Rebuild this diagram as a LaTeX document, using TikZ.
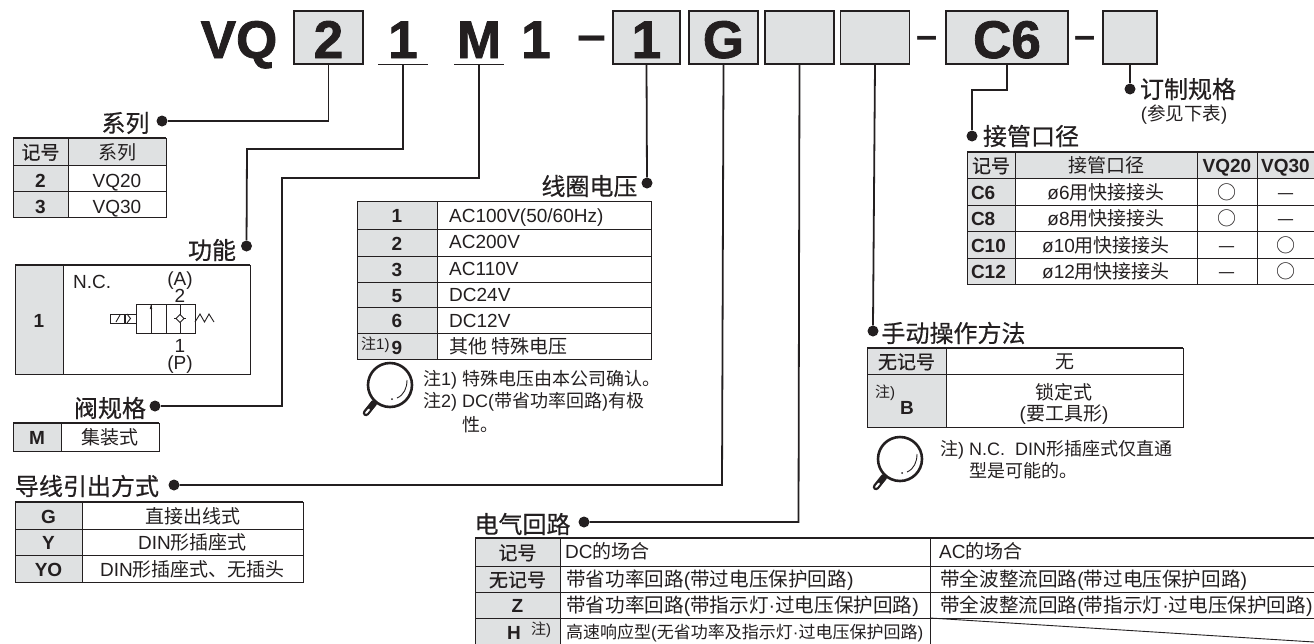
\documentclass[tikz,border=0pt]{standalone}
\usepackage{fontspec}
\setmainfont{Liberation Sans}
\newfontfamily\zhfont{Noto Sans CJK SC}
\newfontfamily\zhmedium[FakeBold=0.5]{Noto Sans CJK SC}
\newfontfamily\codefont[FakeBold=1.5]{Liberation Sans Bold}
\newcommand{\zh}[1]{{\zhfont #1}}
\newcommand{\zhk}[1]{{\zhmedium #1}}
\newcommand{\fs}[1]{\fontsize{#1}{#1}\selectfont}
% one table cell: corners, then its text
\newcommand{\tcell}[5][valcell]{\draw[#1] (#3) rectangle node[celltxt] (#2) {#5} (#4);}
\definecolor{keygray}{HTML}{DFE1E2}
\definecolor{ink}{HTML}{231F20}
\tikzset{
  lens/.pic={
    \draw[ink,line width=2.6pt] (0,0) circle (22pt);
    \draw[ink,line width=.9pt] (17,-5) .. controls (17,3) and (14,10) .. (7,13);
    \fill[ink] (2,14) circle (1pt);
    \draw[ink,line width=6.5pt,line cap=round] (-16,18) -- (-24,28);
    \draw[white,line width=2pt,line cap=round] (-21,24.5) -- (-24,28);
  }
}
\begin{document}
\begin{tikzpicture}[x=1pt,y=-1pt,ink,
    lead/.style={draw=ink,line width=1.8pt},
    stem/.style={draw=ink,line width=1.4pt},
    dotnode/.style={circle,fill=ink,inner sep=0pt,minimum size=11pt},
    codetxt/.style={inner sep=0pt,text height=41pt,text depth=0pt,minimum height=53pt,
      font=\fs{53}\codefont},
    codebox/.style={codetxt,draw=ink,fill=keygray,line width=1.5pt},
    dashtxt/.style={inner sep=0pt,font=\fs{#1}\bfseries},
    headtxt/.style={inner sep=0pt,font=\fs{24}},
    keycell/.style={draw=ink,fill=keygray,line width=.9pt},
    valcell/.style={draw=ink,fill=white,line width=.9pt},
    celltxt/.style={inner sep=0pt,align=center,font=\fs{19},text height=13.6pt,text depth=0pt,yshift=-1pt},
    lefttxt/.style={inner sep=0pt,anchor=west,font=\fs{19},text height=13.6pt,text depth=0pt},
    notetxt/.style={inner sep=0pt,anchor=west,font=\fs{18},text height=13pt,text depth=0pt},
    widetxt/.style={lefttxt,font=\fs{19.6}},
    slimtxt/.style={lefttxt,font=\fs{17}},
    smalltxt/.style={inner sep=0pt,font=\fs{15}},
    toprule/.style={draw=ink,line width=2pt}]
    \useasboundingbox (0,0) rectangle (1314,643);

    % Model code along the top
    \node[codetxt] (cvq) at (239,37.5) {VQ};
    \node[codebox,minimum width=69pt] (bseries) at (328.5,37.5) {2};
    \node[codetxt,minimum width=49pt] (nfunc) at (403,37.5) {1};
    \node[codetxt,minimum width=49pt] (nvalve) at (479,37.5) {M};
    \node[codetxt] (cone) at (536,37.5) {1};
    \node[dashtxt=52] (cdash1) at (591.5,44) {–};
    \node[codebox,minimum width=67pt] (bcoil) at (646.5,37.5) {1};
    \node[codebox,minimum width=69pt] (blead) at (723.5,37.5) {G};
    \node[codebox,minimum width=69pt] (bcircuit) at (799.5,37.5) {};
    \node[codebox,minimum width=69pt] (bmanual) at (875,37.5) {};
    \node[dashtxt=38] (cdash2) at (927.5,42) {–};
    \node[codebox,minimum width=122pt] (bport) at (1007,37.5) {C6};
    \node[dashtxt=38] (cdash3) at (1085.5,42) {–};
    \node[codebox,minimum width=54pt] (bmade) at (1130,37.5) {};
    \draw[stem] (nfunc.south west) -- (nfunc.south east);
    \draw[stem] (nvalve.south west) -- (nvalve.south east);

    % Group headings with their dots
    \node[headtxt] (hseries) at (125.5,123) {\zhk{系列}};
    \node[dotnode] (dseries) at (162,121) {};
    \node[headtxt] (hfunc) at (212,250) {\zhk{功能}};
    \node[dotnode] (dfunc) at (246.5,246) {};
    \node[headtxt] (hvalve) at (110,408) {\zhk{阀规格}};
    \node[dotnode] (dvalve) at (155,406) {};
    \node[headtxt] (hlead) at (87,486) {\zhk{导线引出方式}};
    \node[dotnode] (dlead) at (174,485) {};
    \node[headtxt] (hcoil) at (589.5,186) {\zhk{线圈电压}};
    \node[dotnode] (dcoil) at (647,183) {};
    \node[headtxt] (hcircuit) at (522.5,524) {\zhk{电气回路}};
    \node[dotnode] (dcircuit) at (584,522) {};
    \node[headtxt] (hmanual) at (953.5,333) {\zhk{手动操作方法}};
    \node[dotnode] (dmanual) at (873,331) {};
    \node[headtxt] (hport) at (1031,136) {\zhk{接管口径}};
    \node[dotnode] (dport) at (972,136) {};
    \node[headtxt] (hmade) at (1188,89) {\zhk{订制规格}};
    \node[dotnode] (dmade) at (1130,89) {};
    \node[inner sep=0pt,font=\fs{18.5}] (hmade2) at (1184,115) {(\zh{参见下表})};

    % Leaders from the code to the dots
    \draw[lead] (bseries.south) |- (dseries);
    \draw[lead] (nfunc.south) |- (247,149) -- (dfunc);
    \draw[lead] (nvalve.south) |- (282,178) |- (dvalve);
    \draw[lead] (bcoil.south) -- (dcoil);
    \draw[lead] (blead.south) -- (722,485) -- (dlead);
    \draw[lead] (bcircuit.south) -- (798.5,522) -- (dcircuit);
    \draw[lead] (bmanual.south) -- (873,325) -- (dmanual);
    \draw[lead] (bport.south) |- (972,90) -- (dport);
    \draw[lead] (bmade.south) -- (dmade);

    % Series table
    \tcell[keycell]{sk0}{13,138}{68,165}{\zhk{记号}}
    \tcell[keycell]{sv0}{68,138}{166,165}{\zh{系列}}
    \tcell[keycell]{sk2}{13,165}{68,191}{\raisebox{-1.5pt}{\bfseries 2}}
    \tcell{sv2}{68,165}{166,191}{\raisebox{-1.5pt}{VQ20}}
    \tcell[keycell]{sk3}{13,191}{68,217}{\raisebox{-1.5pt}{\bfseries 3}}
    \tcell{sv3}{68,191}{166,217}{\raisebox{-1.5pt}{VQ30}}
    \draw[toprule] (13,138) -- (166,138);

    % Function table with the valve symbol
    \tcell[keycell]{fk1}{15,265}{63,374}{\bfseries 1}
    \tcell{fv1}{63,265}{250,374}{}
    \draw[toprule] (15,265) -- (250,265);
    \node[lefttxt] (fnc) at (73,282) {N.C.};
    \node[celltxt] (fa) at (180,278) {(A)};
    \node[celltxt] (f2) at (180,295) {2};
    \node[celltxt] (f1) at (180,345) {1};
    \node[celltxt] (fp) at (180,362) {(P)};
    \draw[line width=.9pt] (136,304) rectangle (195,333) (166,304) -- (166,333);
    \draw[line width=.9pt] (151,333) -- (151,304) (180,304) -- (180,333);
    \fill (151,304) -- (149.8,309) -- (152.2,309) -- cycle;
    \draw[line width=.9pt,fill=white] (180,314.5) -- (184,318.5) -- (180,322.5) -- (176,318.5) -- cycle;
    \draw[line width=.9pt] (174,318.5) -- (176,318.5) (184,318.5) -- (186,318.5);
    \draw[line width=.9pt] (110,314) rectangle (136,323);
    \draw[line width=.9pt] (116,322) -- (120,315);
    \draw[line width=2pt] (125,314) -- (125,323);
    \draw[line width=.9pt] (127,314) -- (130.5,318.5) -- (127,323);
    \draw[line width=.9pt] (195,322) -- (200,314) -- (204.5,322) -- (209,314) -- (214,322);

    % Valve table
    \tcell[keycell]{vk}{13,423}{61,451}{\bfseries M}
    \tcell{vv}{61,423}{159,451}{\zh{集装式}}
    \draw[toprule] (13,423) -- (159,423);

    % Lead wire table
    \tcell[keycell]{lk1}{15,502}{82,529}{\bfseries G}
    \tcell{lv1}{82,502}{303,529}{\zh{直接出线式}}
    \tcell[keycell]{lk2}{15,529}{82,555}{\bfseries Y}
    \tcell{lv2}{82,529}{303,555}{DIN\zh{形插座式}}
    \tcell[keycell]{lk3}{15,555}{82,582}{\bfseries YO}
    \tcell{lv3}{82,555}{303,582}{DIN\zh{形插座式、无插头}}
    \draw[toprule] (15,502) -- (303,502);

    % Coil voltage table
    \tcell[keycell]{ck1}{357,201}{437,229}{\bfseries 1}
    \tcell{cv1}{437,201}{651,229}{}
    \tcell[keycell]{ck2}{357,229}{437,256}{\bfseries 2}
    \tcell{cv2}{437,229}{651,256}{}
    \tcell[keycell]{ck3}{357,256}{437,282}{\bfseries 3}
    \tcell{cv3}{437,256}{651,282}{}
    \tcell[keycell]{ck5}{357,282}{437,307}{\bfseries 5}
    \tcell{cv5}{437,282}{651,307}{}
    \tcell[keycell]{ck6}{357,307}{437,333}{\bfseries 6}
    \tcell{cv6}{437,307}{651,333}{}
    \tcell[keycell]{ck9}{357,333}{437,359}{}
    \tcell{cv9}{437,333}{651,359}{}
    \node[lefttxt] (ct1) at (449,216) {AC100V(50/60Hz)};
    \node[lefttxt] (ct2) at (449,242) {AC200V};
    \node[lefttxt] (ct3) at (449,269) {AC110V};
    \node[lefttxt] (ct5) at (449,295) {DC24V};
    \node[lefttxt] (ct6) at (449,321) {DC12V};
    \node[lefttxt] (ct9) at (449,347) {\zh{其他 特殊电压}};
    \node[smalltxt,anchor=west] (cn9) at (361,345) {\zh{注}1)};
    \node[celltxt] (cb9) at (397,347) {\bfseries 9};
    \pic at (390,385) {lens};
    \node[notetxt] (cn1) at (423,379) {\zh{注}1) \zh{特殊电压由本公司确认。}};
    \node[notetxt] (cn2) at (423,401) {\zh{注}2) DC(\zh{带省功率回路})\zh{有极}};
    \node[notetxt] (cn3) at (462,425) {\zh{性。}};

    % Manual override table
    \tcell[keycell]{mk0}{867,348}{946,374}{\zhk{无记号}}
    \tcell{mv0}{946,348}{1183,374}{\zh{无}}
    \tcell[keycell]{mk1}{867,374}{946,427}{}
    \tcell{mv1}{946,374}{1183,427}{}
    \draw[toprule] (867,348) -- (1183,348);
    \node[celltxt] (mv2) at (1064,392) {\zh{锁定式}};
    \node[celltxt] (mv3) at (1064,413) {(\zh{要工具形})};
    \node[smalltxt] (mn) at (885,393) {\zh{注})};
    \node[celltxt] (mb) at (907,407) {\bfseries B};
    \pic at (900,459) {lens};
    \node[notetxt] (mn1) at (940,449) {\zh{注}) N.C.\ \ DIN\zh{形插座式仅直通}};
    \node[notetxt] (mn2) at (969,471) {\zh{型是可能的。}};

    % Port size table
    \tcell[keycell]{pk0}{967,152}{1015,178}{\zhk{记号}}
    \tcell[keycell]{pn0}{1015,152}{1197,178}{\zh{接管口径}}
    \tcell[keycell]{pa0}{1197,152}{1257,178}{\bfseries VQ20}
    \tcell[keycell]{pb0}{1257,152}{1314,178}{\bfseries VQ30}
    \tcell[keycell]{pk1}{967,178}{1015,205}{\makebox[40pt][l]{\bfseries C6}}
    \tcell{pn1}{1015,178}{1197,205}{ø6\zh{用快接接头}}
    \tcell{pa1}{1197,178}{1257,205}{\zh{○}}
    \tcell{pb1}{1257,178}{1314,205}{\zh{—}}
    \tcell[keycell]{pk2}{967,205}{1015,231}{\makebox[40pt][l]{\bfseries C8}}
    \tcell{pn2}{1015,205}{1197,231}{ø8\zh{用快接接头}}
    \tcell{pa2}{1197,205}{1257,231}{\zh{○}}
    \tcell{pb2}{1257,205}{1314,231}{\zh{—}}
    \tcell[keycell]{pk3}{967,231}{1015,258}{\makebox[40pt][l]{\bfseries C10}}
    \tcell{pn3}{1015,231}{1197,258}{ø10\zh{用快接接头}}
    \tcell{pa3}{1197,231}{1257,258}{\zh{—}}
    \tcell{pb3}{1257,231}{1314,258}{\zh{○}}
    \tcell[keycell]{pk4}{967,258}{1015,284}{\makebox[40pt][l]{\bfseries C12}}
    \tcell{pn4}{1015,258}{1197,284}{ø12\zh{用快接接头}}
    \tcell{pa4}{1197,258}{1257,284}{\zh{—}}
    \tcell{pb4}{1257,258}{1314,284}{\zh{○}}
    \draw[toprule] (967,152) -- (1314,152);

    % Circuit table, cut by the page at the bottom
    \tcell[keycell]{ek0}{475,538}{560,566}{\zhk{记号}}
    \tcell{ed0}{560,538}{930,566}{}
    \tcell{ea0}{930,538}{1314,566}{}
    \tcell[keycell]{ek1}{475,566}{560,592}{\zhk{无记号}}
    \tcell{ed1}{560,566}{930,592}{}
    \tcell{ea1}{930,566}{1314,592}{}
    \tcell[keycell]{ek2}{475,592}{560,618}{\bfseries Z}
    \tcell{ed2}{560,592}{930,618}{}
    \tcell{ea2}{930,592}{1314,618}{}
    \tcell[keycell]{ek3}{475,618}{560,644}{}
    \tcell{ed3}{560,618}{930,644}{}
    \tcell{ea3}{930,618}{1314,644}{}
    \draw[toprule] (475,538) -- (1314,538);
    \draw[line width=.9pt] (930,618) -- (1314,642);
    \node[lefttxt] (et0) at (565,552) {DC\zh{的场合}};
    \node[lefttxt] (eu0) at (939,552) {AC\zh{的场合}};
    \node[widetxt] (et1) at (566,580) {\zh{带省功率回路}(\zh{带过电压保护回路})};
    \node[widetxt] (eu1) at (940,580) {\zh{带全波整流回路}(\zh{带过电压保护回路})};
    \node[widetxt] (et2) at (566,606) {\zh{带省功率回路}(\zh{带指示灯}·\zh{过电压保护回路})};
    \node[widetxt] (eu2) at (940,606) {\zh{带全波整流回路}(\zh{带指示灯}·\zh{过电压保护回路})};
    \node[slimtxt] (et3) at (566,632) {\zh{高速响应型}(\zh{无省功率及指示灯}·\zh{过电压保护回路})};
    \node[celltxt] (eh) at (514,632) {\bfseries H};
    \node[smalltxt] (en) at (541,630) {\zh{注})};
  \end{tikzpicture}
\end{document}
